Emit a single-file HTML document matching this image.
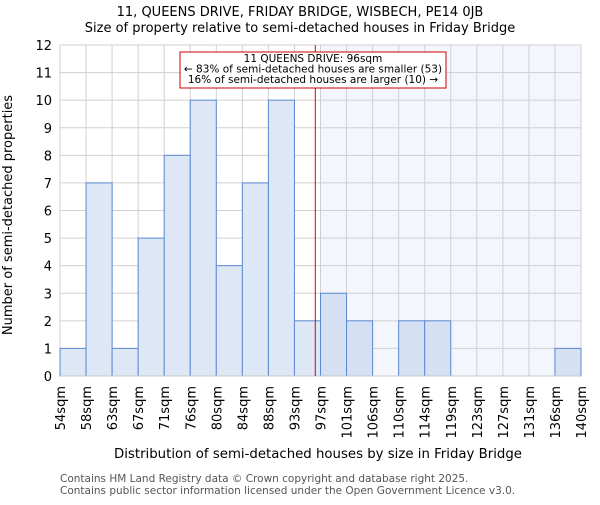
<!DOCTYPE html>
<html><head><meta charset="utf-8"><style>body{margin:0;background:#fff}svg{font-family:"DejaVu Sans","Liberation Sans",sans-serif}</style></head>
<body>
<svg id="c" width="600" height="500" xmlns="http://www.w3.org/2000/svg">
<text x="300" y="16" text-anchor="middle" font-size="13">11, QUEENS DRIVE, FRIDAY BRIDGE, WISBECH, PE14 0JB</text>
<text x="300" y="32" text-anchor="middle" font-size="13">Size of property relative to semi-detached houses in Friday Bridge</text>
<g id="plot"></g>
<text x="318" y="458" text-anchor="middle" font-size="13.3">Distribution of semi-detached houses by size in Friday Bridge</text>
<text transform="translate(12,215) rotate(-90)" text-anchor="middle" font-size="13">Number of semi-detached properties</text>
<text x="60" y="482" font-size="10.5" fill="#555">Contains HM Land Registry data © Crown copyright and database right 2025.</text>
<text x="60" y="494" font-size="10.5" fill="#555">Contains public sector information licensed under the Open Government Licence v3.0.</text>
</svg>
<script>
const edgeLabels=["54sqm","58sqm","63sqm","67sqm","71sqm","76sqm","80sqm","84sqm","88sqm","93sqm","97sqm","101sqm","106sqm","110sqm","114sqm","119sqm","123sqm","127sqm","131sqm","136sqm","140sqm"];
const counts=[1,7,1,5,8,10,4,7,10,2,3,2,0,2,2,0,0,0,0,1];
const yTicks=[0,1,2,3,4,5,6,7,8,9,10,11,12];
const propertyBinPos=9.8; // bin index position of 96sqm
const largerStart=10;
const X0=60,X1=581,Y0=376,Y1=45,YMAX=12;
const n=counts.length,bw=(X1-X0)/n;
const xs=i=>X0+i*bw, ys=v=>Y0-(v/YMAX)*(Y0-Y1);
const NS="http://www.w3.org/2000/svg",g=document.getElementById('plot');
function mk(t,a,txt){const e=document.createElementNS(NS,t);for(const k in a)e.setAttribute(k,a[k]);if(txt!=null)e.textContent=txt;g.appendChild(e);return e;}
let e=mk('rect',{x:xs(largerStart),y:Y1,width:X1-xs(largerStart),height:Y0-Y1,fill:"#f3f6fc"});

yTicks.forEach(t=>{let l=mk('line',{x1:X0,x2:X1,y1:ys(t),y2:ys(t),stroke:"#d0d0d0"});

let tx=mk('text',{x:X0-8,y:ys(t)+5,'text-anchor':'end','font-size':13},t);
});
edgeLabels.forEach((s,i)=>{let l=mk('line',{x1:xs(i),x2:xs(i),y1:Y1,y2:Y0,stroke:"#d0d0d0"});

let tx=mk('text',{transform:`translate(${xs(i)+5},386) rotate(-90)`,'text-anchor':'end','font-size':13},s);
});
counts.forEach((v,i)=>{if(v<=0)return;let r=mk('rect',{x:xs(i),y:ys(v),width:bw,height:Y0-ys(v),fill:i>=largerStart?"#d5e1f2":"#dde7f5",stroke:"#5b8ad3","stroke-width":1});
});
let ax=mk('line',{x1:X0,x2:X1,y1:Y0,y2:Y0,stroke:"#c8c8c8"});

const px=xs(propertyBinPos);
let rl=mk('line',{x1:px,x2:px,y1:Y1,y2:Y0,stroke:"#dd0000","stroke-width":1});

let box=mk('rect',{x:180,y:52,width:266,height:36,fill:"#fff",stroke:"#cc0000"});

["11 QUEENS DRIVE: 96sqm","← 83% of semi-detached houses are smaller (53)","16% of semi-detached houses are larger (10) →"].forEach((s,i)=>{
let t=mk('text',{x:313,y:62+i*10.5,'text-anchor':'middle','font-size':10.5},s);
});
</script>
</body></html>
